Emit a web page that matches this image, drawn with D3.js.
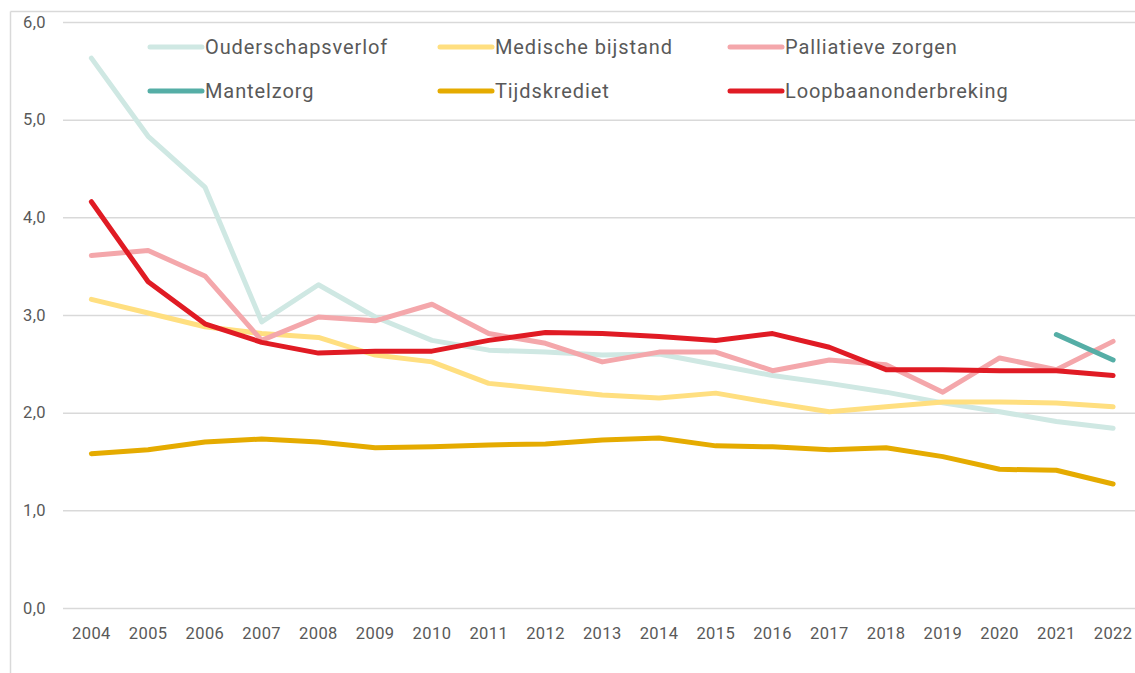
<!DOCTYPE html>
<html>
<head>
<meta charset="utf-8">
<script src="https://cdn.jsdelivr.net/npm/d3@7"></script>
<style>
  body { margin: 0; background: #fff; }
  text { font-family: Roboto, "Open Sans", sans-serif; }
</style>
</head>
<body>
<div id="chart"></div>
<script>
// years on the x axis
var years = [2004,2005,2006,2007,2008,2009,2010,2011,2012,2013,2014,2015,2016,2017,2018,2019,2020,2021,2022];
var yTicks = [0,1,2,3,4,5,6];

// series values
var ouderschapsverlof = [5.63,4.83,4.31,2.93,3.31,2.98,2.74,2.64,2.62,2.59,2.60,2.49,2.38,2.30,2.21,2.10,2.01,1.91,1.84];
var medischeBijstand = [3.16,3.02,2.88,2.81,2.77,2.59,2.52,2.30,2.24,2.18,2.15,2.20,2.10,2.01,2.06,2.11,2.11,2.10,2.06];
var palliatieveZorgen = [3.61,3.66,3.40,2.74,2.98,2.94,3.11,2.81,2.71,2.52,2.62,2.62,2.43,2.54,2.49,2.21,2.56,2.44,2.73];
var mantelzorg = [null,null,null,null,null,null,null,null,null,null,null,null,null,null,null,null,null,2.80,2.54];
var tijdskrediet = [1.58,1.62,1.70,1.73,1.70,1.64,1.65,1.67,1.68,1.72,1.74,1.66,1.65,1.62,1.64,1.55,1.42,1.41,1.27];
var loopbaan = [4.16,3.34,2.91,2.72,2.61,2.63,2.63,2.74,2.82,2.81,2.78,2.74,2.81,2.67,2.44,2.44,2.43,2.43,2.38];

var seriesNames = ["Ouderschapsverlof","Medische bijstand","Palliatieve zorgen","Mantelzorg","Tijdskrediet","Loopbaanonderbreking"];
var seriesColors = ["#cfe8e3","#ffdf80","#f4a7ab","#55aea6","#e5ab00","#e01b24"];
var seriesValues = [ouderschapsverlof, medischeBijstand, palliatieveZorgen, mantelzorg, tijdskrediet, loopbaan];

var W = 1135, H = 673;
var margin = {top: 22, right: 0, bottom: 65, left: 63};
var width = W - margin.left - margin.right;
var height = H - margin.top - margin.bottom;

var svg = d3.select("#chart").append("svg")
    .attr("width", W)
    .attr("height", H);

// outer frame (only top and left visible)
svg.append("line").attr("x1", 10.5).attr("x2", W).attr("y1", 11.5).attr("y2", 11.5)
    .attr("stroke", "#d9d9d9").attr("stroke-width", 1.5);
svg.append("line").attr("x1", 10.5).attr("x2", 10.5).attr("y1", 11.5).attr("y2", H)
    .attr("stroke", "#d9d9d9").attr("stroke-width", 1.5);

var g = svg.append("g")
    .attr("transform", "translate(" + margin.left + "," + margin.top + ")");

// one band per year, points sit in the middle of each band
var xBand = d3.scaleBand().domain(years).range([0, 1078.5]);
var x = function(d) { return xBand(d) + xBand.bandwidth() / 2; };
var y = d3.scaleLinear().domain([0, 6]).range([586, 0]);

// gridlines + y labels
var yAxis = g.append("g")
    .call(d3.axisLeft(y).tickValues(yTicks).tickSize(-width)
        .tickFormat(function(d) { return d3.format(".1f")(d).replace(".", ","); }));
yAxis.select(".domain").remove();
yAxis.selectAll(".tick line").attr("stroke", "#d9d9d9").attr("stroke-width", 1.5);
yAxis.selectAll(".tick text").attr("x", -17).attr("fill", "#595959")
    .style("font-size", "16.5px").style("letter-spacing", "0.4px");

// x labels
var xAxis = g.append("g")
    .attr("transform", "translate(0," + 586 + ")")
    .call(d3.axisBottom(xBand).tickSize(0).tickPadding(19));
xAxis.select(".domain").remove();
xAxis.selectAll(".tick text").attr("fill", "#595959")
    .style("font-size", "16.5px").style("letter-spacing", "0.4px");

// lines
var line = d3.line()
    .defined(function(d) { return d != null; })
    .x(function(d, i) { return x(years[i]); })
    .y(function(d) { return y(d); });

seriesValues.forEach(function(vals, i) {
  g.append("path")
    .datum(vals)
    .attr("fill", "none")
    .attr("stroke", seriesColors[i])
    .attr("stroke-width", 5)
    .attr("stroke-linecap", "round")
    .attr("stroke-linejoin", "round")
    .attr("d", line);
});

// legend
var legendX = [150, 440, 730];
var legendY = [47, 91];
var legend = svg.append("g");
seriesNames.forEach(function(name, i) {
  var lx = legendX[i % 3], ly = legendY[Math.floor(i / 3)];
  legend.append("line")
    .attr("x1", lx).attr("x2", lx + 52)
    .attr("y1", ly).attr("y2", ly)
    .attr("stroke", seriesColors[i])
    .attr("stroke-width", 5)
    .attr("stroke-linecap", "round");
  legend.append("text")
    .attr("x", lx + 55).attr("y", ly)
    .attr("dy", "0.35em")
    .attr("fill", "#595959")
    .style("font-size", "20px")
    .style("letter-spacing", "0.9px")
    .text(name);
});
</script>
</body>
</html>
